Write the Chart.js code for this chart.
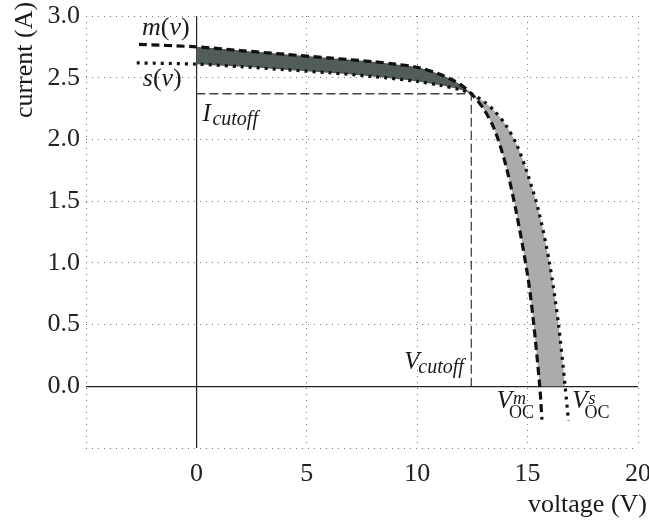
<!DOCTYPE html>
<html>
<head>
<meta charset="utf-8">
<script src="https://cdn.jsdelivr.net/npm/chart.js@4.4.0/dist/chart.umd.min.js"></script>
<style>
  html, body { margin: 0; padding: 0; background: #fff; }
  #wrap { width: 649px; height: 524px; }
</style>
</head>
<body>
<div id="wrap"><canvas id="ivChart" width="649" height="524"></canvas></div>
<script>
// m(v) - dashed curve
const mVoltage = [-2.6, 0, 2, 4, 6, 8, 9, 10, 11, 11.5, 12, 12.45, 13, 13.5, 14, 14.5, 15, 15.25, 15.55, 15.65];
const mCurrent = [2.77, 2.75, 2.72, 2.69, 2.66, 2.63, 2.61, 2.585, 2.53, 2.49, 2.44, 2.37, 2.25, 2.08, 1.80, 1.40, 0.90, 0.55, 0.0, -0.27];

// s(v) - dotted curve
const sVoltage = [-2.7, 0, 2, 4, 6, 8, 10, 11, 12, 12.45, 13, 13.5, 14, 14.5, 15, 15.5, 16, 16.4, 16.7, 16.85];
const sCurrent = [2.62, 2.61, 2.59, 2.565, 2.54, 2.51, 2.47, 2.44, 2.40, 2.37, 2.31, 2.23, 2.12, 1.96, 1.72, 1.42, 0.99, 0.50, 0.0, -0.28];

const vCutoff = 12.45;
const iCutoff = 2.37;

const xTicks = [-5, 0, 5, 10, 15, 20];
const yTicks = [-0.5, 0, 0.5, 1, 1.5, 2, 2.5, 3];

const SERIF = '"Liberation Serif", "Times New Roman", serif';

document.addEventListener("DOMContentLoaded", () => {

  const toPoints = (xs, ys) => xs.map((v, i) => ({ x: v, y: ys[i] }));
  const mPoints = toPoints(mVoltage, mCurrent);
  const sPoints = toPoints(sVoltage, sCurrent);

  // doubled end points keep the corners of the filled shapes sharp
  const closedShape = (a, b) => [a[0], ...a, a[a.length - 1], b[0], ...b, b[b.length - 1]];
  const inDark = p => p.x >= 0 && p.x <= vCutoff;
  const inLight = p => p.x >= vCutoff && p.y >= 0;
  const darkShape = closedShape(mPoints.filter(inDark), sPoints.filter(inDark).reverse());
  const lightShape = closedShape(mPoints.filter(inLight), sPoints.filter(inLight).reverse());

  const isZero = c => c.tick && Math.abs(c.tick.value) < 1e-9;

  // text labels on the plot
  const labelsPlugin = {
    id: 'plotLabels',
    afterDraw(chart) {
      const { ctx, scales: { x, y } } = chart;
      const it = s => `italic ${s}px ${SERIF}`;
      const up = s => `${s}px ${SERIF}`;
      const run = (x0, y0, parts) => {
        let cx = x0;
        for (const [t, f] of parts) {
          ctx.font = f;
          ctx.fillText(t, cx, y0);
          cx += ctx.measureText(t).width;
        }
        return cx;
      };
      ctx.save();
      ctx.fillStyle = '#1a1a1a';
      ctx.textBaseline = 'alphabetic';
      ctx.textAlign = 'left';

      run(x.getPixelForValue(mVoltage[0]) + 3, 35, [['m', it(26)], ['(', up(26)], ['v', it(26)], [')', up(26)]]);
      run(x.getPixelForValue(sVoltage[0]) + 6, 86, [['s', it(26)], ['(', up(26)], ['v', it(26)], [')', up(26)]]);

      // I cutoff
      let px = x.getPixelForValue(0) + 6;
      let py = y.getPixelForValue(iCutoff) + 27;
      ctx.font = it(25);
      ctx.fillText('I', px, py);
      ctx.font = it(20);
      ctx.fillText('cutoff', px + 10, py + 4);

      // V cutoff
      px = x.getPixelForValue(vCutoff) - 67;
      py = y.getPixelForValue(0) - 17;
      ctx.font = it(25);
      ctx.fillText('V', px, py);
      ctx.font = it(20);
      ctx.fillText('cutoff', px + 14, py + 4);

      // open circuit voltages
      const voc = (x0, sup) => {
        const b = y.getPixelForValue(0) + 22;
        ctx.font = it(25);
        ctx.fillText('V', x0, b);
        const w = ctx.measureText('V').width;
        ctx.font = it(18);
        ctx.fillText(sup, x0 + w + 1, b - 4);
        ctx.font = up(18);
        ctx.fillText('OC', x0 + w - 3, b + 10);
      };
      voc(x.getPixelForValue(mVoltage[mVoltage.length - 2]) - 43, 'm');
      voc(x.getPixelForValue(sVoltage[sVoltage.length - 2]) + 7, 's');

      // axis titles
      ctx.font = up(26);
      ctx.textAlign = 'right';
      ctx.fillText('voltage (V)', 647, 512);
      ctx.save();
      ctx.translate(32, 60);
      ctx.rotate(-Math.PI / 2);
      ctx.textAlign = 'center';
      ctx.fillText('current (A)', 0, 0);
      ctx.restore();

      ctx.restore();
    }
  };

  const ctx1 = document.getElementById('ivChart').getContext('2d');

  new Chart(ctx1, {
    type: 'line',
    data: {
      datasets: [
        {
          label: 'gap',
          data: darkShape,
          fill: 'shape',
          backgroundColor: '#525c5a',
          borderWidth: 0,
          pointRadius: 0,
          tension: 0.3,
          order: 3
        },
        {
          label: 'loss',
          data: lightShape,
          fill: 'shape',
          backgroundColor: '#ababab',
          borderWidth: 0,
          pointRadius: 0,
          tension: 0.3,
          order: 3
        },
        {
          label: 'cutoff',
          data: [{ x: 0, y: iCutoff }, { x: vCutoff, y: iCutoff }, { x: vCutoff, y: 0 }],
          borderColor: '#444',
          borderWidth: 1.3,
          borderDash: [9, 4],
          pointRadius: 0,
          fill: false,
          order: 2
        },
        {
          label: 'm(v)',
          data: mPoints,
          borderColor: '#111',
          borderWidth: 3.2,
          borderDash: [8, 4.5],
          pointRadius: 0,
          tension: 0.3,
          fill: false,
          order: 1
        },
        {
          label: 's(v)',
          data: sPoints,
          borderColor: '#111',
          borderWidth: 3.2,
          borderDash: [3, 5],
          pointRadius: 0,
          tension: 0.3,
          fill: false,
          order: 1
        }
      ]
    },
    options: {
      responsive: false,
      animation: false,
      devicePixelRatio: 1,
      layout: { padding: { top: 16, right: 11, bottom: 0, left: 0 } },
      plugins: {
        legend: { display: false },
        tooltip: { enabled: false }
      },
      scales: {
        x: {
          type: 'linear',
          min: -5,
          max: 20,
          afterBuildTicks: s => { s.ticks = xTicks.map(v => ({ value: v })); },
          afterFit: s => { s.height = 76; s.paddingLeft = 0; s.paddingRight = 0; },
          ticks: {
            autoSkip: false,
            maxRotation: 0,
            padding: 11,
            color: '#222',
            font: { family: SERIF, size: 26 },
            callback: v => (v < 0 ? '' : String(v))
          },
          grid: {
            drawTicks: false,
            color: c => (isZero(c) ? '#222' : '#777'),
            lineWidth: c => (isZero(c) ? 1.2 : 1)
          },
          border: { display: false, dash: c => (isZero(c) ? [] : [1, 5]) }
        },
        y: {
          type: 'linear',
          min: -0.5,
          max: 3,
          afterBuildTicks: s => { s.ticks = yTicks.map(v => ({ value: v })); },
          afterFit: s => { s.width = 86; s.paddingTop = 0; s.paddingBottom = 0; },
          ticks: {
            autoSkip: false,
            padding: 6,
            color: '#222',
            font: { family: SERIF, size: 26 },
            callback: v => (v < 0 ? '' : v.toFixed(1))
          },
          grid: {
            drawTicks: false,
            color: c => (isZero(c) ? '#222' : '#777'),
            lineWidth: c => (isZero(c) ? 1.2 : 1)
          },
          border: { display: false, dash: c => (isZero(c) ? [] : [1, 5]) }
        }
      }
    },
    plugins: [labelsPlugin]
  });

});
</script>
</body>
</html>
